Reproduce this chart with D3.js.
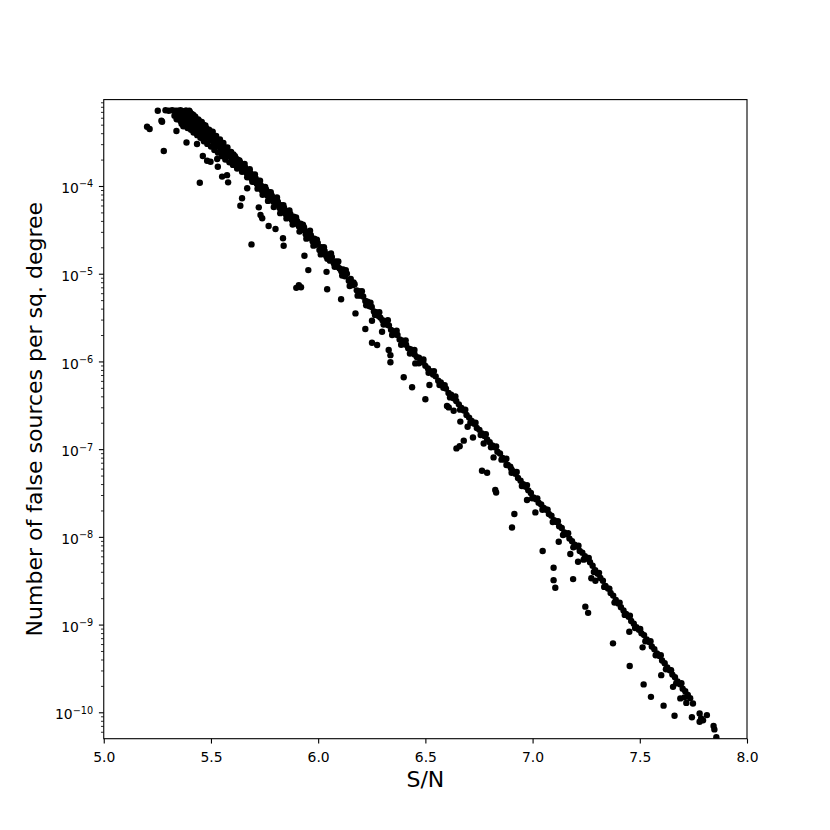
<!DOCTYPE html>
<html><head><meta charset="utf-8">
<script src="https://cdn.jsdelivr.net/npm/d3@7"></script>
<style>body{margin:0;background:#fff}</style>
</head><body>
<svg id="chart" width="830" height="830"></svg>
<script>
// ---- data ----
const snr = [
 // flat cap at the top
 5.252,5.288,5.303,5.319,5.334,5.345,5.358,5.373,5.386,5.396,
 // dense band 5.33-5.60
 5.330,5.335,5.340,5.345,5.350,5.352,5.358,5.360,5.365,5.368,
 5.372,5.375,5.378,5.382,5.385,5.388,5.392,5.395,5.398,5.402,
 5.405,5.408,5.412,5.415,5.418,5.422,5.425,5.428,5.432,5.435,
 5.438,5.442,5.445,5.448,5.452,5.455,5.458,5.462,5.465,5.468,
 5.472,5.475,5.478,5.482,5.485,5.490,5.494,5.498,5.502,5.506,
 5.510,5.514,5.518,5.522,5.526,5.530,5.535,5.540,5.545,5.550,
 5.555,5.560,5.565,5.570,5.575,5.580,5.585,5.590,5.596,5.600,
 // band 5.60-6.00
 5.605,5.610,5.615,5.620,5.625,5.630,5.636,5.642,5.648,5.654,
 5.660,5.666,5.672,5.678,5.684,5.690,5.696,5.702,5.708,5.714,
 5.720,5.726,5.732,5.738,5.744,5.750,5.757,5.764,5.770,5.777,
 5.784,5.791,5.798,5.805,5.812,5.820,5.827,5.834,5.841,5.848,
 5.855,5.862,5.870,5.878,5.886,5.894,5.902,5.910,5.918,5.926,
 5.934,5.942,5.950,5.958,5.966,5.974,5.982,5.990,5.998,
 // band 6.00-6.50
 6.006,6.014,6.022,6.030,6.038,6.046,6.055,6.064,6.073,6.082,
 6.091,6.100,6.108,6.116,6.125,6.134,6.143,6.152,6.161,6.170,
 6.180,6.190,6.200,6.210,6.220,6.230,6.240,6.250,6.260,6.270,
 6.280,6.290,6.300,6.310,6.320,6.330,6.340,6.350,6.360,6.370,
 6.380,6.390,6.400,6.410,6.420,6.430,6.440,6.450,6.460,6.470,6.480,6.490,
 // band 6.50-7.00
 6.500,6.512,6.524,6.536,6.548,6.560,6.572,6.584,6.596,6.608,
 6.620,6.632,6.644,6.656,6.668,6.680,6.692,6.704,6.716,6.728,
 6.740,6.752,6.764,6.776,6.788,6.800,6.812,6.824,6.836,6.848,
 6.860,6.872,6.884,6.896,6.908,6.920,6.932,6.944,6.956,6.968,6.980,6.992,
 // band 7.00-7.50
 7.004,7.016,7.028,7.040,7.052,7.064,7.076,7.088,7.100,7.112,
 7.124,7.136,7.148,7.160,7.172,7.184,7.196,7.208,7.220,7.232,
 7.244,7.256,7.268,7.280,7.292,7.304,7.316,7.328,7.340,7.352,
 7.364,7.376,7.388,7.400,7.412,7.424,7.436,7.448,7.460,7.472,7.484,7.496,
 // band 7.50-7.74
 7.508,7.520,7.532,7.544,7.556,7.568,7.580,7.592,7.604,7.616,
 7.628,7.640,7.652,7.664,7.676,7.688,7.700,7.712,7.724,7.735,
 // scattered points below the band and the tail
 5.202,5.214,5.269,5.272,5.280,5.339,5.386,5.435,5.462,5.482,
 5.498,5.448,5.529,5.532,5.552,5.575,5.580,5.645,5.637,5.669,
 5.723,5.739,5.731,5.769,5.801,5.689,5.836,5.839,5.936,5.954,
 5.898,5.910,5.920,6.042,6.039,6.107,6.174,6.220,6.251,6.275,
 6.298,6.329,6.337,6.337,6.251,6.453,6.399,6.438,6.500,6.519,
 6.601,6.609,6.632,6.663,6.697,6.722,6.645,6.660,6.679,6.772,
 6.818,6.878,6.901,6.764,6.788,6.826,6.830,6.915,7.013,6.974,
 6.904,7.047,7.122,7.098,7.098,7.106,7.176,7.189,7.212,7.246,
 7.259,7.274,7.293,7.451,7.375,7.513,7.453,7.518,7.552,7.611,
 7.662,7.600,7.655,7.689,7.708,7.717,7.748,7.743,7.779,7.786,
 7.779,7.795,7.813,7.844,7.848,7.857,
 // further points that thicken the band
 5.363,5.371,5.381,5.391,5.399,5.407,5.411,5.419,5.427,5.436,
 5.441,5.451,5.457,5.467,5.474,5.483,5.491,5.500,5.508,5.516,
 5.524,5.533,5.542,5.551,5.558,5.567,5.577,5.586,5.594,5.603,
 5.612,5.622,5.633,5.645,5.657,5.669,5.681,5.693,5.705,5.717,
 5.729,5.741,5.753,5.766,5.779,5.793,5.808,5.823,5.838,5.852,
 5.866,5.881,5.897,5.913,5.929,5.945,5.962,5.978,5.994,6.012,
 6.027,6.043,6.060,6.077,6.094,6.112,6.129,6.147,6.165,6.184,
 6.204,6.224,6.244,6.265,6.285,6.305,6.325,6.345,6.366,6.387,
 6.408,6.428,6.449,6.470,6.491,6.515,6.540,6.566,6.590,6.615,
 6.640,6.662,6.686,6.710,6.734,6.758,6.782,6.806,6.830,6.855,
 6.878,6.902,6.926,6.950,6.974,6.998,7.022,7.046,7.070,7.094,
 7.118,7.142,7.166,7.190,7.214,7.238,7.262,7.286,7.310,7.334,
 7.358,7.382,7.406,7.430,7.454,7.478,7.502,7.526,7.550,7.574,
 7.598,7.622,7.646,7.670,7.694
];
const falseDensity = [
 7.2e-4,7.3e-4,7.2e-4,7.3e-4,7.2e-4,7.2e-4,7.3e-4,7.1e-4,7.2e-4,7.0e-4,
 6.31e-4,7.08e-4,5.75e-4,6.76e-4,6.17e-4,7.08e-4,5.50e-4,6.46e-4,6.92e-4,5.89e-4,
 6.31e-4,5.25e-4,6.76e-4,5.75e-4,6.17e-4,5.01e-4,6.46e-4,5.50e-4,5.89e-4,6.92e-4,
 5.13e-4,6.03e-4,4.79e-4,5.62e-4,6.46e-4,5.25e-4,4.47e-4,5.75e-4,4.90e-4,5.37e-4,
 4.17e-4,5.01e-4,5.50e-4,4.47e-4,4.90e-4,3.98e-4,4.68e-4,4.27e-4,5.01e-4,3.72e-4,
 4.37e-4,3.98e-4,4.57e-4,3.55e-4,4.07e-4,3.80e-4,4.27e-4,3.31e-4,3.72e-4,3.98e-4,
 3.47e-4,3.02e-4,3.55e-4,3.24e-4,2.82e-4,3.31e-4,2.95e-4,3.16e-4,2.63e-4,2.88e-4,
 2.69e-4,2.45e-4,2.75e-4,2.51e-4,2.29e-4,2.45e-4,2.19e-4,2.34e-4,2.04e-4,2.19e-4,
 2.29e-4,1.91e-4,2.09e-4,1.78e-4,2.00e-4,1.74e-4,1.86e-4,1.58e-4,1.74e-4,1.48e-4,
 1.62e-4,1.41e-4,1.51e-4,1.32e-4,1.41e-4,1.20e-4,1.32e-4,1.12e-4,1.23e-4,1.05e-4,
 1.15e-4,9.55e-5,1.02e-4,8.91e-5,9.77e-5,8.32e-5,9.12e-5,7.76e-5,8.51e-5,7.24e-5,
 7.76e-5,6.61e-5,7.08e-5,6.17e-5,6.61e-5,5.62e-5,6.03e-5,5.25e-5,5.62e-5,4.79e-5,
 5.13e-5,4.37e-5,4.79e-5,4.07e-5,4.47e-5,3.72e-5,3.98e-5,3.47e-5,3.72e-5,3.16e-5,
 3.39e-5,2.82e-5,3.02e-5,2.57e-5,2.75e-5,2.34e-5,2.51e-5,2.14e-5,2.24e-5,
 1.86e-5,2.00e-5,1.70e-5,1.82e-5,1.58e-5,1.66e-5,1.41e-5,1.55e-5,1.32e-5,1.38e-5,
 1.20e-5,1.15e-5,1.07e-5,1.12e-5,9.33e-6,1.00e-5,8.32e-6,8.71e-6,7.41e-6,7.59e-6,
 6.46e-6,6.31e-6,5.62e-6,5.50e-6,4.90e-6,4.79e-6,4.27e-6,4.17e-6,3.72e-6,3.63e-6,
 3.31e-6,3.16e-6,2.95e-6,2.88e-6,2.63e-6,2.57e-6,2.29e-6,2.19e-6,2.04e-6,2.00e-6,
 1.78e-6,1.74e-6,1.58e-6,1.55e-6,1.41e-6,1.38e-6,1.26e-6,1.20e-6,1.12e-6,1.10e-6,1.00e-6,9.77e-7,
 8.91e-7,8.32e-7,7.76e-7,7.08e-7,6.76e-7,6.03e-7,5.75e-7,5.01e-7,4.90e-7,4.37e-7,
 4.17e-7,3.80e-7,3.55e-7,3.24e-7,2.95e-7,2.75e-7,2.45e-7,2.29e-7,2.09e-7,1.95e-7,
 1.74e-7,1.66e-7,1.51e-7,1.41e-7,1.29e-7,1.20e-7,1.10e-7,1.05e-7,9.33e-8,8.91e-8,
 7.94e-8,7.59e-8,6.61e-8,6.31e-8,5.62e-8,5.25e-8,4.68e-8,4.37e-8,3.98e-8,3.72e-8,3.39e-8,3.16e-8,
 2.82e-8,2.69e-8,2.45e-8,2.34e-8,2.14e-8,2.04e-8,1.82e-8,1.74e-8,1.55e-8,1.48e-8,
 1.32e-8,1.26e-8,1.12e-8,1.07e-8,9.55e-9,8.91e-9,8.13e-9,7.76e-9,6.92e-9,6.61e-9,
 6.03e-9,5.62e-9,5.13e-9,4.68e-9,4.17e-9,3.80e-9,3.39e-9,3.16e-9,2.75e-9,2.57e-9,
 2.29e-9,2.14e-9,1.91e-9,1.74e-9,1.58e-9,1.45e-9,1.32e-9,1.23e-9,1.10e-9,1.02e-9,9.33e-10,8.71e-10,
 7.94e-10,7.59e-10,6.76e-10,6.31e-10,5.62e-10,5.25e-10,4.68e-10,4.37e-10,3.89e-10,3.63e-10,
 3.24e-10,3.02e-10,2.69e-10,2.51e-10,2.24e-10,2.09e-10,1.86e-10,1.74e-10,1.58e-10,1.45e-10,
 4.74e-4,4.47e-4,5.56e-4,5.41e-4,2.51e-4,4.24e-4,3.13e-4,3.01e-4,2.20e-4,1.94e-4,
 1.89e-4,1.09e-4,2.03e-4,1.66e-4,1.28e-4,1.33e-4,1.10e-4,7.24e-5,5.96e-5,9.42e-5,
 5.71e-5,4.29e-5,4.67e-5,3.50e-5,3.24e-5,2.16e-5,2.54e-5,2.08e-5,1.60e-5,1.10e-5,
 6.9e-6,7.4e-6,7.0e-6,6.64e-6,1.05e-5,5.11e-6,3.53e-6,2.34e-6,1.63e-6,1.54e-6,
 2.18e-6,1.35e-6,1.18e-6,9.77e-7,2.91e-6,9.5e-7,6.59e-7,5.07e-7,3.70e-7,5.38e-7,
 3.10e-7,2.99e-7,2.74e-7,2.06e-7,1.80e-7,1.36e-7,1.02e-7,1.08e-7,1.25e-7,1.16e-7,
 8.05e-8,6.59e-8,5.89e-8,5.68e-8,5.38e-8,3.42e-8,3.21e-8,1.82e-8,1.90e-8,2.63e-8,
 1.28e-8,6.89e-9,8.79e-9,4.45e-9,3.21e-9,2.63e-9,6.37e-9,3.30e-9,5.20e-9,1.60e-9,
 1.36e-9,3.37e-9,3.16e-9,8.28e-10,6.11e-10,5.50e-10,3.37e-10,2.08e-10,1.50e-10,1.19e-10,
 9.12e-11,2.65e-10,1.95e-10,1.44e-10,1.48e-10,1.28e-10,1.26e-10,8.79e-11,9.7e-11,8.5e-11,
 7.8e-11,8.1e-11,9.29e-11,6.97e-11,6.38e-11,5.19e-11,
 // further points that thicken the band
 5.13e-4,4.79e-4,7.24e-4,4.57e-4,7.24e-4,4.37e-4,6.61e-4,4.07e-4,6.17e-4,3.80e-4,
 5.75e-4,3.55e-4,5.37e-4,3.24e-4,4.90e-4,3.02e-4,4.37e-4,2.82e-4,4.17e-4,2.57e-4,
 3.72e-4,2.40e-4,3.39e-4,2.19e-4,3.09e-4,2.00e-4,2.75e-4,1.86e-4,2.45e-4,1.74e-4,
 2.19e-4,1.58e-4,1.95e-4,1.45e-4,1.78e-4,1.26e-4,1.55e-4,1.12e-4,1.35e-4,9.33e-5,
 1.15e-4,7.94e-5,9.77e-5,6.76e-5,8.51e-5,5.75e-5,7.41e-5,4.90e-5,6.03e-5,4.27e-5,
 5.25e-5,3.63e-5,4.37e-5,3.02e-5,3.63e-5,2.51e-5,3.09e-5,2.09e-5,2.45e-5,1.66e-5,
 2.00e-5,1.48e-5,1.70e-5,1.20e-5,1.38e-5,9.55e-6,1.10e-5,7.24e-6,7.94e-6,5.62e-6,
 6.31e-6,4.37e-6,4.68e-6,3.39e-6,3.63e-6,2.63e-6,2.95e-6,2.00e-6,2.24e-6,1.55e-6,
 1.74e-6,1.23e-6,1.35e-6,9.55e-7,1.05e-6,7.41e-7,7.76e-7,5.37e-7,5.37e-7,3.89e-7,
 3.98e-7,2.82e-7,2.82e-7,2.00e-7,2.00e-7,1.45e-7,1.48e-7,1.05e-7,1.07e-7,7.59e-8,
 7.76e-8,5.37e-8,5.50e-8,3.80e-8,3.89e-8,2.75e-8,2.75e-8,2.04e-8,2.04e-8,1.48e-8,
 1.51e-8,1.05e-8,1.10e-8,7.59e-9,7.94e-9,5.50e-9,5.75e-9,3.98e-9,3.89e-9,2.69e-9,
 2.57e-9,1.78e-9,1.78e-9,1.29e-9,1.26e-9,9.12e-10,8.91e-10,6.46e-10,6.46e-10,4.47e-10,
 4.47e-10,3.09e-10,3.02e-10,2.14e-10,2.14e-10
];
const xTicks = [5.0, 5.5, 6.0, 6.5, 7.0, 7.5, 8.0];
const yTickExponents = [-10, -9, -8, -7, -6, -5, -4];
const xDomain = [5.0, 8.0];
const yDomain = [5.0e-11, 9.66e-4];
const xLabel = "S/N";
const yLabel = "Number of false sources per sq. degree";

// ---- layout ----
const plotL = 103.75, plotR = 747, plotT = 99.6, plotB = 738.7;
const font = "DejaVu Sans, Liberation Sans, sans-serif";
const svg = d3.select("#chart");
svg.append("rect").attr("width", 830).attr("height", 830).attr("fill", "#fff");

const x = d3.scaleLinear().domain(xDomain).range([plotL, plotR]);
const y = d3.scaleLog().domain(yDomain).range([plotB, plotT]);

const pts = snr.map((s, i) => ({s, v: falseDensity[i]}));

svg.append("clipPath").attr("id", "clip")
  .append("rect").attr("x", plotL).attr("y", plotT)
  .attr("width", plotR - plotL).attr("height", plotB - plotT);

svg.append("g").attr("clip-path", "url(#clip)")
  .selectAll("circle").data(pts).join("circle")
  .attr("cx", d => x(d.s)).attr("cy", d => y(d.v))
  .attr("r", 3.2).attr("fill", "#000");

// x axis
const gx = svg.append("g").attr("transform", `translate(0,${plotB})`)
  .call(d3.axisBottom(x).tickValues(xTicks).tickFormat(d3.format(".1f"))
        .tickSize(4.86).tickPadding(4.86));
gx.select(".domain").remove();
gx.selectAll(".tick line").attr("stroke", "#000").attr("stroke-width", 1.1);
gx.selectAll(".tick text").attr("y", 23.3).attr("dy", 0)
  .attr("font-family", font).attr("font-size", "13.9px").attr("fill", "#000");

// y axis minor ticks
const minorVals = [];
for (let e = -11; e <= -3; e++) for (let m = 2; m <= 9; m++) {
  const v = m * Math.pow(10, e);
  if (v >= yDomain[0] && v <= yDomain[1]) minorVals.push(v);
}
const gym = svg.append("g").attr("transform", `translate(${plotL},0)`)
  .call(d3.axisLeft(y).tickValues(minorVals).tickFormat("").tickSize(2.78));
gym.select(".domain").remove();
gym.selectAll(".tick line").attr("stroke", "#000").attr("stroke-width", 0.83);

// y axis major ticks
const majorVals = yTickExponents.map(e => Math.pow(10, e));
const gy = svg.append("g").attr("transform", `translate(${plotL},0)`)
  .call(d3.axisLeft(y).tickValues(majorVals).tickFormat("").tickSize(4.86));
gy.select(".domain").remove();
gy.selectAll(".tick line").attr("stroke", "#000").attr("stroke-width", 1.1);
gy.selectAll(".tick text").remove();
gy.selectAll(".tick").each(function(d, i) {
  const t = d3.select(this).append("text")
    .attr("x", -10.6).attr("y", 6.7).attr("text-anchor", "end")
    .attr("font-family", font).attr("font-size", "13.9px").attr("fill", "#000");
  t.append("tspan").text("10");
  t.append("tspan").attr("dy", -5.8).attr("font-size", "9.7px")
    .text("\u2212" + Math.abs(yTickExponents[i]));
});

// frame
svg.append("rect").attr("x", plotL).attr("y", plotT)
  .attr("width", plotR - plotL).attr("height", plotB - plotT)
  .attr("fill", "none").attr("stroke", "#000").attr("stroke-width", 1.1);

// axis labels
svg.append("text").attr("x", (plotL + plotR) / 2).attr("y", 786.7)
  .attr("text-anchor", "middle").attr("font-family", font)
  .attr("font-size", "22px").attr("fill", "#000").text(xLabel);
svg.append("text")
  .attr("transform", `translate(42,${(plotT + plotB) / 2}) rotate(-90)`)
  .attr("text-anchor", "middle").attr("font-family", font)
  .attr("font-size", "22px").attr("fill", "#000").text(yLabel);
</script>
</body></html>
